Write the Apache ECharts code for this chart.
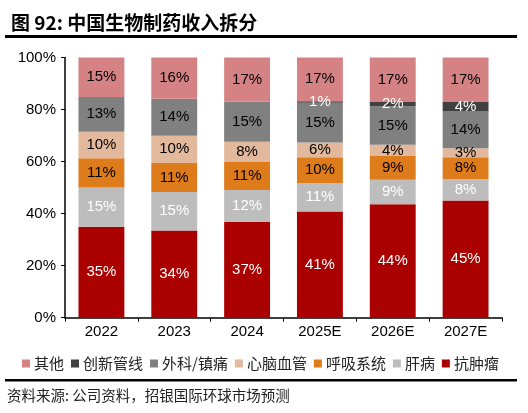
<!DOCTYPE html>
<html lang="zh">
<head>
<meta charset="UTF-8">
<title>中国生物制药收入拆分</title>
<script src="https://cdn.jsdelivr.net/npm/echarts@6/dist/echarts.min.js"></script>
<style>
  html, body { margin: 0; padding: 0; background: #fff; }
  #chart { width: 528px; height: 413px; }
</style>
</head>
<body>
<div id="chart"></div>
<script>
// 年份
const years = ['2022', '2023', '2024', '2025E', '2026E', '2027E'];

// 各板块收入占比 (%)
const kangZhongLiu = [35.0, 33.5, 36.9, 40.8, 43.6, 45.0];   // 抗肿瘤
const ganBing      = [15.0, 14.8, 12.2, 10.9, 9.4, 8.3];     // 肝病
const huXi         = [11.3, 11.2, 10.7, 10.0, 9.1, 8.4];     // 呼吸系统
const xinNao       = [10.2, 10.4, 7.8, 5.6, 4.4, 3.4];       // 心脑血管
const waiKe        = [13.3, 14.2, 15.4, 15.3, 14.8, 14.1];   // 外科/镇痛
const chuangXin    = [0, 0, 0, 0.6, 1.8, 3.9];               // 创新管线
const qiTa         = [15.2, 15.9, 17.0, 16.8, 16.9, 16.9];   // 其他

const yTicks = [0, 20, 40, 60, 80, 100];

const numFont = 'Liberation Sans, Arial, sans-serif';
const cjkFont = 'Noto Sans CJK SC, sans-serif';

function serie(name, data, color, labelColor) {
    return {
        name: name,
        type: 'bar',
        stack: 'total',
        data: data,
        barWidth: '63%',
        itemStyle: { color: color },
        label: {
            show: true,
            position: 'inside',
            color: labelColor,
            fontFamily: numFont,
            fontSize: 15,
            formatter: p => p.value > 0 ? Math.round(p.value) + '%' : ''
        }
    };
}

const chart = echarts.init(document.getElementById('chart'), null, { renderer: 'canvas' });

chart.setOption({
    animation: false,
    title: {
        text: '图 92: 中国生物制药收入拆分',
        left: 6,
        top: 8,
        textStyle: { fontFamily: cjkFont, fontWeight: 'bold', fontSize: 19, color: '#000' }
    },
    grid: { left: 65, right: 26, top: 57.5, bottom: 95.3 },
    legend: {
        data: ['其他', '创新管线', '外科/镇痛', '心脑血管', '呼吸系统', '肝病', '抗肿瘤'],
        left: 17,
        top: 351,
        icon: 'rect',
        itemWidth: 8,
        itemHeight: 8,
        itemGap: 7,
        textStyle: { fontFamily: cjkFont, fontSize: 15, color: '#222', padding: [0, 0, 0, -1] }
    },
    xAxis: {
        type: 'category',
        data: years,
        axisLine: { lineStyle: { color: '#000', width: 1.5 } },
        axisTick: { show: true, length: 4, lineStyle: { color: '#000' } },
        axisLabel: { color: '#000', fontFamily: numFont, fontSize: 15, margin: 7 }
    },
    yAxis: {
        type: 'value',
        min: yTicks[0],
        max: yTicks[yTicks.length - 1],
        interval: 20,
        splitLine: { show: false },
        axisLine: { show: true, lineStyle: { color: '#000', width: 1.5 } },
        axisTick: { show: true, length: 4, lineStyle: { color: '#000' } },
        axisLabel: { color: '#000', fontFamily: numFont, fontSize: 15, margin: 9, formatter: '{value}%' }
    },
    series: [
        serie('抗肿瘤', kangZhongLiu, '#AA0000', '#fff'),
        serie('肝病', ganBing, '#BDBDBD', '#fff'),
        serie('呼吸系统', huXi, '#DE7B1B', '#000'),
        serie('心脑血管', xinNao, '#E2B99C', '#000'),
        serie('外科/镇痛', waiKe, '#808080', '#000'),
        serie('创新管线', chuangXin, '#404040', '#fff'),
        serie('其他', qiTa, '#D48283', '#000')
    ],
    graphic: [
        { type: 'rect', shape: { x: 5, y: 35, width: 512, height: 3 }, style: { fill: '#000' } },
        { type: 'rect', shape: { x: 5, y: 379, width: 512, height: 2.5 }, style: { fill: '#000' } },
        {
            type: 'text', left: 7, top: 388,
            style: { text: '资料来源: 公司资料，招银国际环球市场预测', font: '14.5px "Noto Sans CJK SC", sans-serif', fill: '#222' }
        }
    ]
});
</script>
</body>
</html>
